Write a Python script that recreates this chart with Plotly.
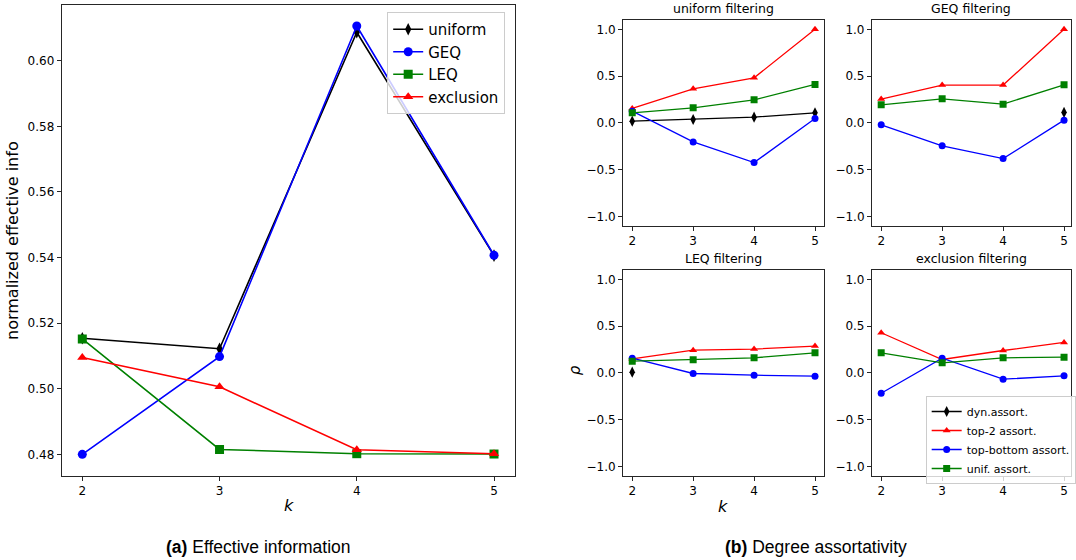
import plotly.graph_objects as go

W, H = 1076, 560

# ---- (a) effective information ----
k_vals = [2, 3, 4, 5]
ei_uniform = [0.5154, 0.5122, 0.6087, 0.5406]
ei_geq = [0.4800, 0.5098, 0.6106, 0.5407]
ei_leq = [0.5152, 0.4815, 0.4802, 0.4801]
ei_exclusion = [0.5095, 0.5006, 0.4814, 0.4802]

# ---- (b) degree assortativity, one dict entry per filtering ----
panel_titles = ["uniform filtering", "GEQ filtering", "LEQ filtering", "exclusion filtering"]
dyn_assort = {
    "uniform filtering": [0.018, 0.036, 0.061, 0.107],
    "GEQ filtering": [None, None, None, 0.111],
    "LEQ filtering": [0.007, None, None, None],
    "exclusion filtering": [None, None, None, None],
}
top2_assort = {
    "uniform filtering": [0.154, 0.364, 0.482, 1.0],
    "GEQ filtering": [0.254, 0.404, 0.404, 1.0],
    "LEQ filtering": [0.150, 0.243, 0.254, 0.286],
    "exclusion filtering": [0.429, 0.143, 0.239, 0.325],
}
topbottom_assort = {
    "uniform filtering": [0.125, -0.204, -0.425, 0.046],
    "GEQ filtering": [-0.021, -0.246, -0.382, 0.029],
    "LEQ filtering": [0.157, -0.007, -0.025, -0.036],
    "exclusion filtering": [-0.218, 0.157, -0.068, -0.032],
}
unif_assort = {
    "uniform filtering": [0.107, 0.161, 0.246, 0.411],
    "GEQ filtering": [0.193, 0.257, 0.200, 0.407],
    "LEQ filtering": [0.125, 0.139, 0.161, 0.214],
    "exclusion filtering": [0.214, 0.107, 0.161, 0.168],
}

FONT = "DejaVu Sans"
AXC = "#262626"


def px_x(x):
    return x / W


def px_y(y):
    return 1 - y / H


fig = go.Figure()

# left panel traces
left_series = [
    ("uniform", ei_uniform, "black", "diamond-tall", 9),
    ("GEQ", ei_geq, "blue", "circle", 9),
    ("LEQ", ei_leq, "green", "square", 9),
    ("exclusion", ei_exclusion, "red", "triangle-up", 9),
]
for name, vals, col, sym, sz in left_series:
    fig.add_trace(go.Scatter(
        x=k_vals, y=vals, name=name, mode="lines+markers",
        line=dict(color=col, width=1.6),
        marker=dict(color=col, symbol=sym, size=sz),
        xaxis="x", yaxis="y", legend="legend",
    ))

# right panels
right_series = [
    ("dyn.assort.", dyn_assort, "black", "diamond-tall", 8),
    ("top-2 assort.", top2_assort, "red", "triangle-up", 7),
    ("top-bottom assort.", topbottom_assort, "blue", "circle", 7),
    ("unif. assort.", unif_assort, "green", "square", 7),
]
for i, title in enumerate(panel_titles):
    ax = i + 2
    for name, data, col, sym, sz in right_series:
        fig.add_trace(go.Scatter(
            x=k_vals, y=data[title], name=name, mode="lines+markers",
            line=dict(color=col, width=1.3),
            marker=dict(color=col, symbol=sym, size=sz),
            xaxis=f"x{ax}", yaxis=f"y{ax}",
            legend="legend2", showlegend=(title == "exclusion filtering"),
            connectgaps=False,
        ))

axis_common = dict(
    showline=True, mirror=True, linecolor=AXC, linewidth=1,
    ticks="outside", ticklen=4, tickwidth=1, tickcolor=AXC,
    showgrid=False, zeroline=False,
    tickfont=dict(family=FONT, size=12, color="black"),
)

layout = dict(
    width=W, height=H, margin=dict(l=0, r=0, t=0, b=0),
    paper_bgcolor="white", plot_bgcolor="white",
    font=dict(family=FONT, color="black"),
)

# left axes
layout["xaxis"] = dict(axis_common, domain=[px_x(62), px_x(517)], range=[1.85, 5.15],
                       tickvals=k_vals, anchor="y")
layout["yaxis"] = dict(axis_common, domain=[px_y(476), px_y(5)], range=[0.4734, 0.617],
                       tickvals=[0.48, 0.50, 0.52, 0.54, 0.56, 0.58, 0.60],
                       tickformat=".2f", anchor="x")

# right axes boxes (left, right, top, bottom) in pixels
boxes = [
    (626, 828, 20, 225.7),
    (876, 1076, 20, 225.7),
    (626, 828, 270, 475.7),
    (876, 1076, 270, 475.7),
]
x_ranges = [[1.85, 5.15], [1.848, 5.114], [1.85, 5.15], [1.848, 5.114]]
for i, (l, r, t, b) in enumerate(boxes):
    ax = i + 2
    layout[f"xaxis{ax}"] = dict(axis_common, domain=[px_x(l), px_x(r)], range=x_ranges[i],
                                tickvals=k_vals, anchor=f"y{ax}")
    layout[f"yaxis{ax}"] = dict(axis_common, domain=[px_y(b), px_y(t)], range=[-1.1, 1.1],
                                tickvals=[-1.0, -0.5, 0.0, 0.5, 1.0],
                                tickformat=".1f", anchor=f"x{ax}")

layout["legend"] = dict(
    x=px_x(389), y=px_y(12), xanchor="left", yanchor="top",
    bgcolor="rgba(255,255,255,0.8)", bordercolor="#cccccc", borderwidth=1,
    font=dict(family=FONT, size=15, color="black"), itemwidth=30,
    tracegroupgap=0,
)
layout["legend2"] = dict(
    x=px_x(930), y=px_y(396), xanchor="left", yanchor="top",
    bgcolor="rgba(255,255,255,0.8)", bordercolor="#cccccc", borderwidth=1,
    font=dict(family=FONT, size=11, color="black"), itemwidth=30,
    tracegroupgap=0,
)

annotations = []
# subplot titles
for title, (l, r, t, b) in zip(panel_titles, boxes):
    annotations.append(dict(text=title, x=px_x((l + r) / 2), y=px_y(t - 2),
                            xanchor="center", yanchor="bottom",
                            font=dict(family=FONT, size=12.5)))
# axis labels and captions
annotations += [
    dict(text="normalized effective info", x=px_x(12), y=px_y(240), textangle=-90,
         xanchor="center", yanchor="middle", font=dict(family=FONT, size=16)),
    dict(text="<i>k</i>", x=px_x(290), y=px_y(505), xanchor="center", yanchor="middle",
         font=dict(family=FONT, size=16)),
    dict(text="<i>ρ</i>", x=px_x(578), y=px_y(370), textangle=-90, xanchor="center",
         yanchor="middle", font=dict(family=FONT, size=15)),
    dict(text="<i>k</i>", x=px_x(726), y=px_y(506), xanchor="center", yanchor="middle",
         font=dict(family=FONT, size=16)),
    dict(text="<b>(a)</b> Effective information", x=px_x(259), y=px_y(547),
         xanchor="center", yanchor="middle",
         font=dict(family="Liberation Sans", size=17.5)),
    dict(text="<b>(b)</b> Degree assortativity", x=px_x(820), y=px_y(547),
         xanchor="center", yanchor="middle",
         font=dict(family="Liberation Sans", size=17.5)),
]
for a in annotations:
    a.update(xref="paper", yref="paper", showarrow=False)
layout["annotations"] = annotations

fig.update_layout(**layout)
fig.write_html("out.html")
